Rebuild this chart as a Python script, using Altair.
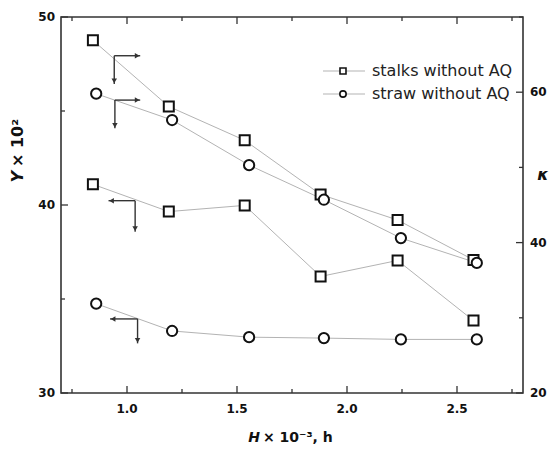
import altair as alt
import pandas as pd

# ---------------- data ----------------
stalks_h = [0.845, 1.19, 1.535, 1.88, 2.23, 2.575]
straw_h = [0.86, 1.205, 1.555, 1.895, 2.245, 2.59]

stalks_Y = [41.1, 39.65, 39.98, 36.2, 37.05, 33.85]      # left axis, Y x 10^2
straw_Y = [34.75, 33.3, 32.97, 32.92, 32.85, 32.85]

stalks_kappa = [66.9, 58.1, 53.6, 46.4, 43.0, 37.7]      # right axis, kappa
straw_kappa = [59.8, 56.3, 50.3, 45.7, 40.6, 37.3]

legend_labels = ["stalks without AQ", "straw without AQ"]

x_major = [1.0, 1.5, 2.0, 2.5]
x_labels = ["1.0", "1.5", "2.0", "2.5"]
x_minor = [0.75, 1.25, 1.75, 2.25, 2.75]
y_major = [30, 40, 50]
y_labels = ["30", "40", "50"]
y_minor = [35, 45]
k_major = [20, 40, 60]
k_labels = ["20", "40", "60"]
k_minor = [30, 50, 70]

# arrows: corner point, horizontal end x, vertical end value
kappa_arrows = [(0.942, 64.85, 1.06, 61.1), (0.945, 58.95, 1.06, 55.2)]
Y_arrows = [(1.037, 40.23, 0.916, 38.58), (1.048, 33.94, 0.923, 32.64)]

# ---------------- layout ----------------
W, H = 462, 376
FRAME = "#333333"
LINE = "#b3b3b3"
INK = "#111111"

xscale = alt.Scale(domain=[0.7, 2.8], nice=False, zero=False)
yscale = alt.Scale(domain=[30, 50], nice=False, zero=False)
kscale = alt.Scale(domain=[20, 70], nice=False, zero=False)


def series_df(h1, v1, h2, v2):
    return pd.DataFrame({
        "H": h1 + h2,
        "v": v1 + v2,
        "series": ["stalks"] * len(h1) + ["straw"] * len(h2),
        "shape": ["square"] * len(h1) + ["circle"] * len(h2),
        "size": [100] * len(h1) + [105] * len(h2),
    })


dfY = series_df(stalks_h, stalks_Y, straw_h, straw_Y)
dfK = series_df(stalks_h, stalks_kappa, straw_h, straw_kappa)


def arrow_layers(arrows, scale, px_per_unit_y):
    segs, heads = [], []
    dx = 3.0 / 220.0
    dy = 3.0 / px_per_unit_y
    for cx, cy, hx, vy in arrows:
        segs.append({"x": cx, "y": cy, "x2": hx, "y2": cy})
        segs.append({"x": cx, "y": cy, "x2": cx, "y2": vy})
        sgn = 1 if hx > cx else -1
        heads.append({"x": hx - sgn * dx, "y": cy,
                      "shape": "triangle-right" if sgn > 0 else "triangle-left"})
        heads.append({"x": cx, "y": vy + dy, "shape": "triangle-down"})
    seg = alt.Chart(pd.DataFrame(segs)).mark_rule(color=FRAME, strokeWidth=1.4).encode(
        x=alt.X("x:Q", scale=xscale, axis=None),
        x2="x2:Q",
        y=alt.Y("y:Q", scale=scale, axis=None),
        y2="y2:Q",
    )
    head = alt.Chart(pd.DataFrame(heads)).mark_point(
        filled=True, color=FRAME, size=30, opacity=1
    ).encode(
        x=alt.X("x:Q", scale=xscale, axis=None),
        y=alt.Y("y:Q", scale=scale, axis=None),
        shape=alt.Shape("shape:N", scale=None),
    )
    return [seg, head]


def data_layers(df, scale):
    line = alt.Chart(df).mark_line(color=LINE, strokeWidth=1).encode(
        x=alt.X("H:Q", scale=xscale, axis=None),
        y=alt.Y("v:Q", scale=scale, axis=None),
        detail="series:N",
    )
    pts = alt.Chart(df).mark_point(
        filled=True, fill="white", stroke=INK, strokeWidth=2, opacity=1
    ).encode(
        x=alt.X("H:Q", scale=xscale, axis=None),
        y=alt.Y("v:Q", scale=scale, axis=None),
        shape=alt.Shape("shape:N", scale=None),
        size=alt.Size("size:Q", scale=None),
    )
    return [line, pts]


def vticks(values, scale, x0, x1):
    return alt.Chart(pd.DataFrame({"t": values})).mark_rule(color=FRAME, strokeWidth=1.3).encode(
        y=alt.Y("t:Q", scale=scale, axis=None), x=alt.value(x0), x2=alt.value(x1)
    )


def hticks(values, y0, y1):
    return alt.Chart(pd.DataFrame({"t": values})).mark_rule(color=FRAME, strokeWidth=1.3).encode(
        x=alt.X("t:Q", scale=xscale, axis=None), y=alt.value(y0), y2=alt.value(y1)
    )


LBL = dict(font="DejaVu Sans", fontSize=12, fontWeight="bold", color=INK)


def vlabels(values, labels, scale, x, align):
    return alt.Chart(pd.DataFrame({"t": values, "s": labels})).mark_text(
        align=align, baseline="middle", **LBL
    ).encode(y=alt.Y("t:Q", scale=scale, axis=None), x=alt.value(x), text="s:N")


xlabels = alt.Chart(pd.DataFrame({"t": x_major, "s": x_labels})).mark_text(
    align="center", baseline="middle", **LBL
).encode(x=alt.X("t:Q", scale=xscale, axis=None), y=alt.value(H + 16), text="s:N")

left = alt.layer(
    *data_layers(dfY, yscale),
    *arrow_layers(Y_arrows, yscale, 18.8),
    vticks(y_major, yscale, 0, 7),
    vticks(y_minor, yscale, 0, 4),
    hticks(x_major, H - 7, H),
    hticks(x_minor, H - 4, H),
    hticks(x_major, 0, 7),
    hticks(x_minor, 0, 4),
    vlabels(y_major, y_labels, yscale, -6, "right"),
    xlabels,
)

right = alt.layer(
    *data_layers(dfK, kscale),
    *arrow_layers(kappa_arrows, kscale, 7.52),
    vticks(k_major, kscale, W - 7, W),
    vticks(k_minor, kscale, W - 4, W),
    vlabels(k_major, k_labels, kscale, W + 7, "left"),
)

# ---------------- legend ----------------
leg = pd.DataFrame({"label": legend_labels, "ly": [54, 77],
                    "shape": ["square", "circle"], "size": [36, 40]})
leg_line = alt.Chart(leg).mark_rule(color=LINE, strokeWidth=1).encode(
    x=alt.value(262), x2=alt.value(304), y=alt.Y("ly:Q", scale=None, axis=None)
)
leg_pts = alt.Chart(leg).mark_point(
    filled=True, fill="white", stroke=INK, strokeWidth=1.6, opacity=1
).encode(
    x=alt.value(282), y=alt.Y("ly:Q", scale=None, axis=None),
    shape=alt.Shape("shape:N", scale=None), size=alt.Size("size:Q", scale=None)
)
leg_txt = alt.Chart(leg).mark_text(
    align="left", baseline="middle", font="DejaVu Sans", fontSize=16, color="#222222"
).encode(x=alt.value(311), y=alt.Y("ly:Q", scale=None, axis=None), text="label:N")


# ---------------- axis titles ----------------
def txt(s, x, y, align, style="normal", size=14, angle=0):
    kw = dict(align=align, baseline="middle", font="DejaVu Sans", fontSize=size,
              fontWeight="bold", fontStyle=style, color=INK)
    if angle:
        kw["angle"] = angle
    return alt.Chart(pd.DataFrame({"t": [s]})).mark_text(**kw).encode(
        x=alt.value(x), y=alt.value(y), text="t:N")


titles = [
    txt("H", 199, 421, "right", "italic", 14),
    txt(" × 10⁻³, h", 202, 421, "left", "normal", 14),
    txt("Y", -43, 154, "right", "italic", 16, 270),
    txt(" × 10²", -43, 150, "left", "normal", 16, 270),
    txt("κ", 482, 158, "center", "italic", 16),
]

chart = alt.layer(left, right, leg_line, leg_pts, leg_txt, *titles).resolve_scale(
    y="independent"
).properties(
    width=W, height=H,
    autosize=alt.AutoSizeParams(type="none"),
    padding={"left": 53, "top": 9, "right": 29, "bottom": 51},
).configure_view(
    stroke=FRAME, strokeWidth=1.6
)

chart.save("out.html", embed_options={"renderer": "svg", "actions": False})
